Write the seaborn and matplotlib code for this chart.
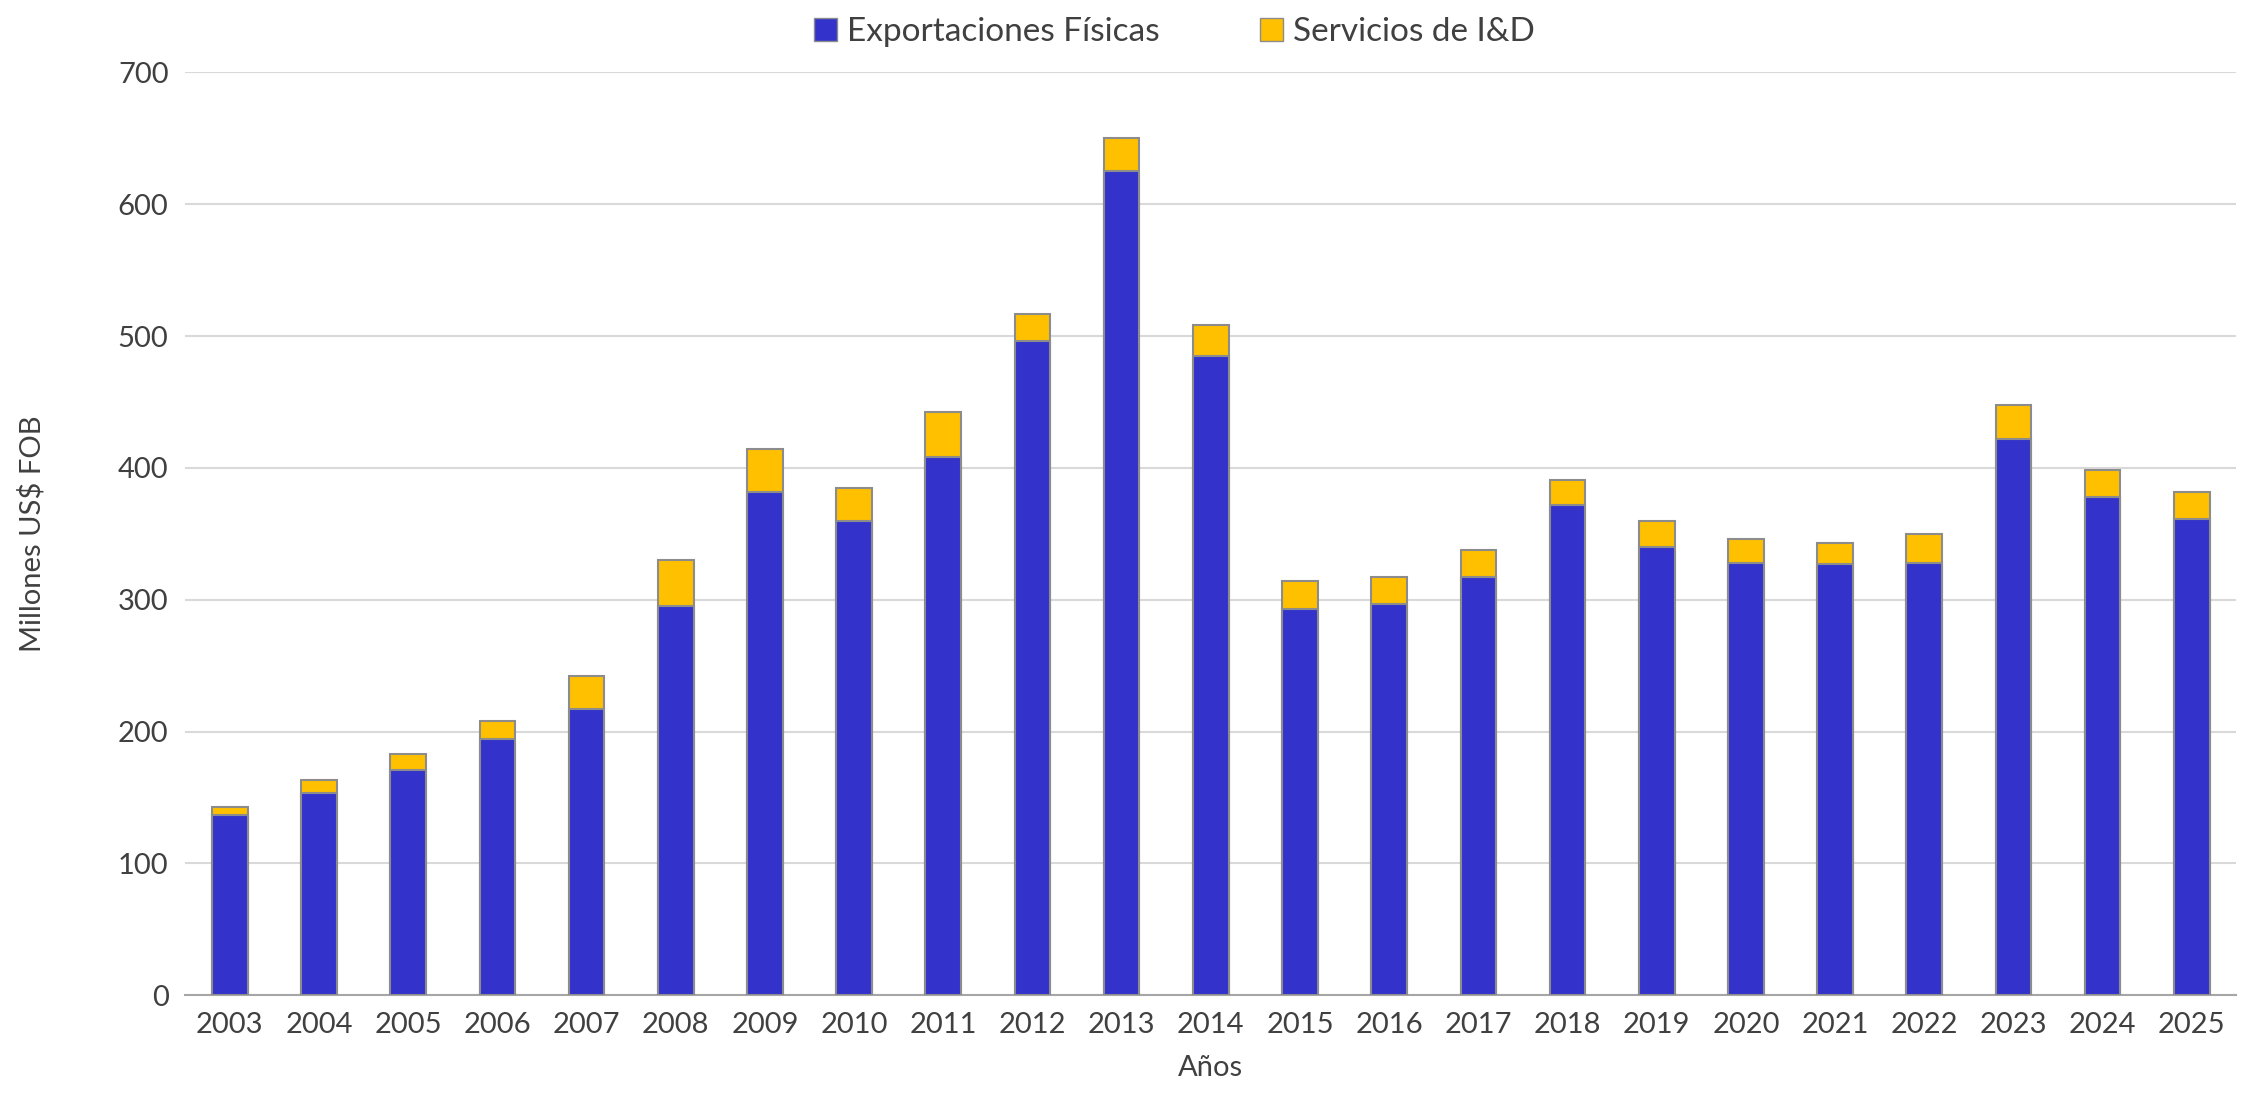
"""
Exportaciones físicas y servicios de I&D, 2003-2025 (barras apiladas)
"""

import pandas as pd
import matplotlib.pyplot as plt
import seaborn as sns
from matplotlib.patches import Patch

years = [str(y) for y in range(2003, 2026)]
fisicas = [137, 153, 171, 194, 217, 295, 382, 360, 408, 496, 625,
           485, 293, 297, 317, 372, 340, 328, 327, 328, 422, 378, 361]
servicios = [6, 10, 12, 14, 25, 35, 32, 25, 34, 21, 25,
             23, 21, 20, 21, 19, 20, 18, 16, 22, 26, 20, 21]

df = pd.DataFrame({'year': years, 'fisicas': fisicas, 'servicios': servicios})
df['total'] = df['fisicas'] + df['servicios']

BLUE = '#3333CC'
GOLD = '#FFC000'
EDGE = '#8C8C8C'

sns.set_theme(style='white')
plt.rcParams['font.family'] = ['Lato', 'DejaVu Sans']

fig, ax = plt.subplots(figsize=(22.59, 10.96), dpi=100)
fig.subplots_adjust(left=0.082, right=0.99, top=0.934, bottom=0.092)

# total first (yellow), physical exports drawn over it
sns.barplot(data=df, x='year', y='total', color=GOLD, width=0.4,
            edgecolor=EDGE, linewidth=1.5, saturation=1, ax=ax, zorder=2)
sns.barplot(data=df, x='year', y='fisicas', color=BLUE, width=0.4,
            edgecolor=EDGE, linewidth=1.5, saturation=1, ax=ax, zorder=3)

ax.set_ylim(0, 700)
ax.set_yticks(range(0, 701, 100))
ax.set_xlim(-0.5, len(years) - 0.5)
ax.yaxis.grid(True, color='#D9D9D9', linewidth=1.5, zorder=0)
ax.set_axisbelow(True)
for s in ['top', 'right', 'left']:
    ax.spines[s].set_visible(False)
ax.spines['bottom'].set_color('#A6A6A6')
ax.spines['bottom'].set_linewidth(1.5)
ax.tick_params(axis='both', labelsize=21, colors='#404040', length=0, pad=12)

ax.set_xlabel('Años', fontsize=21, color='#404040', labelpad=12)
ax.set_ylabel('Millones US$ FOB', fontsize=21, color='#404040', labelpad=52)

handles = [Patch(facecolor=BLUE, edgecolor=EDGE, label='Exportaciones Físicas'),
           Patch(facecolor=GOLD, edgecolor=EDGE, label='Servicios de I&D'),]
fig.legend(handles=handles, loc='upper center', bbox_to_anchor=(0.52, 1.012),
           ncol=2, frameon=False, fontsize=24, handlelength=0.7,
           handleheight=0.7, handletextpad=0.3, columnspacing=3.0,
           labelcolor='#404040')

plt.savefig('out.png', dpi=100)
plt.close()
